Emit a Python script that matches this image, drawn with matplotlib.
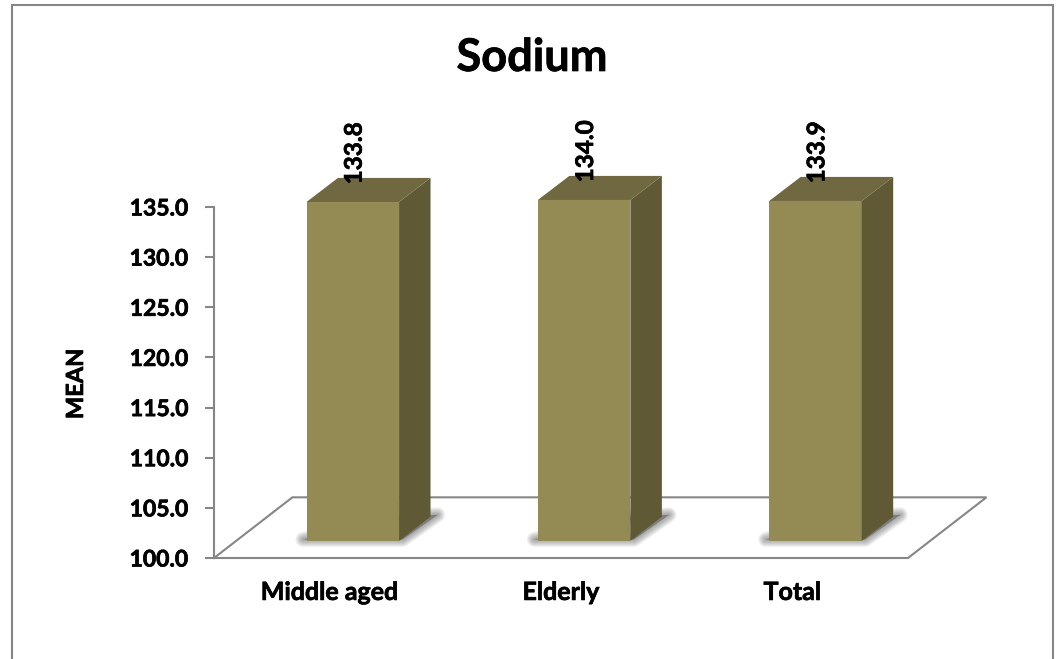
import matplotlib
matplotlib.use('Agg')
from matplotlib import pyplot as plt
from matplotlib import patheffects
from matplotlib.lines import Line2D
from matplotlib.patches import Polygon

plt.rcParams['font.family'] = ['Lato', 'DejaVu Sans']

categories = ['Middle aged', 'Elderly', 'Total']
means = [133.8, 134.0, 133.9]
yticks = [100.0, 105.0, 110.0, 115.0, 120.0, 125.0, 130.0, 135.0]

W, H = 1061, 659
fig = plt.figure(figsize=(W / 100, H / 100), dpi=100)
fig.patch.set_facecolor('white')

# slightly heavier text than plain Lato Bold
heavy = [patheffects.withStroke(linewidth=0.5, foreground='black')]

# outer chart frame, runs off the bottom edge
fx = [12 / W, 12 / W, 1052.5 / W, 1052.5 / W]
fy = [0, 1 - 4.5 / H, 1 - 4.5 / H, 0]
fig.add_artist(Line2D(fx, fy, transform=fig.transFigure, color='#868686', lw=1.5,
                      solid_joinstyle='miter'))

ax = fig.add_axes([214 / W, 1 - 558 / H, 694 / W, 351 / H])
ax.set_xlim(0, 3)
ax.set_ylim(100, 135)
ax.patch.set_alpha(0)
for s in ['top', 'right', 'bottom']:
    ax.spines[s].set_visible(False)
ax.spines['left'].set_color('#868686')
ax.spines['left'].set_linewidth(1.5)

# sizes of the fake 3d box, in data units
floor_dx, floor_dy = 0.339, 6.05
plane_dx, plane_dy = 0.1, 1.7
side_dx, side_dy = 0.136, 2.4
half = 0.2

ax.plot([0, floor_dx, 3 + floor_dx, 3, 0], [100, 100 + floor_dy, 100 + floor_dy, 100, 100],
        color='#868686', lw=1.5, clip_on=False, solid_joinstyle='miter', zorder=1)

for i, v in enumerate(means):
    x0 = i + 0.5 + plane_dx - half
    x1 = i + 0.5 + plane_dx + half
    base = 100 + plane_dy
    top = v + plane_dy

    # soft shadow on the floor, built up from stacked strokes
    shadow = [(x0 - 0.015, base + 0.15), (x1 + 0.015, base + 0.15),
              (x1 + side_dx + 0.03, base + side_dy + 0.2), (x1, base + side_dy)]
    for k in range(10, 0, -1):
        ax.add_patch(Polygon(shadow, closed=True, facecolor='#4a4a4a', edgecolor='#4a4a4a',
                             lw=k * 1.1, alpha=0.06, joinstyle='round', clip_on=False, zorder=2))

    ax.add_patch(Polygon([(x0, base), (x1, base), (x1, top), (x0, top)], closed=True,
                         facecolor='#948a54', edgecolor='none', clip_on=False, zorder=3))
    ax.add_patch(Polygon([(x1, base), (x1 + side_dx, base + side_dy), (x1 + side_dx, top + side_dy), (x1, top)],
                         closed=True, facecolor='#5f5935', edgecolor='none', clip_on=False, zorder=3))
    ax.add_patch(Polygon([(x0, top), (x1, top), (x1 + side_dx, top + side_dy), (x0 + side_dx, top + side_dy)],
                         closed=True, facecolor='#6f6840', edgecolor='none', clip_on=False, zorder=3))
    ax.text(i + 0.5 + plane_dx + 0.006, top + 1.75, '%.1f' % v, rotation=90, ha='center', va='bottom',
            fontsize=17.5, fontweight='bold', color='black', clip_on=False, zorder=4, path_effects=heavy)

ax.set_xticks([i + 0.5 for i in range(3)])
ax.set_xticklabels(categories, fontsize=18, fontweight='bold', path_effects=heavy)
ax.tick_params(axis='x', length=0, pad=16.5)
ax.set_yticks(yticks)
ax.set_yticklabels(['%.1f' % t for t in yticks], fontsize=16.5, fontweight='bold', path_effects=heavy)
ax.tick_params(axis='y', length=6.5, width=1.5, color='#868686', pad=12)
ax.set_ylabel('MEAN', fontsize=17, fontweight='bold', path_effects=heavy)
ax.yaxis.set_label_coords((87 - 214) / 694, (558 - 384) / 351)

fig.text(532 / W, 1 - 58 / H, 'Sodium', ha='center', va='center', fontsize=32.5, fontweight='bold',
         path_effects=heavy)

plt.savefig('out.png', dpi=100)
